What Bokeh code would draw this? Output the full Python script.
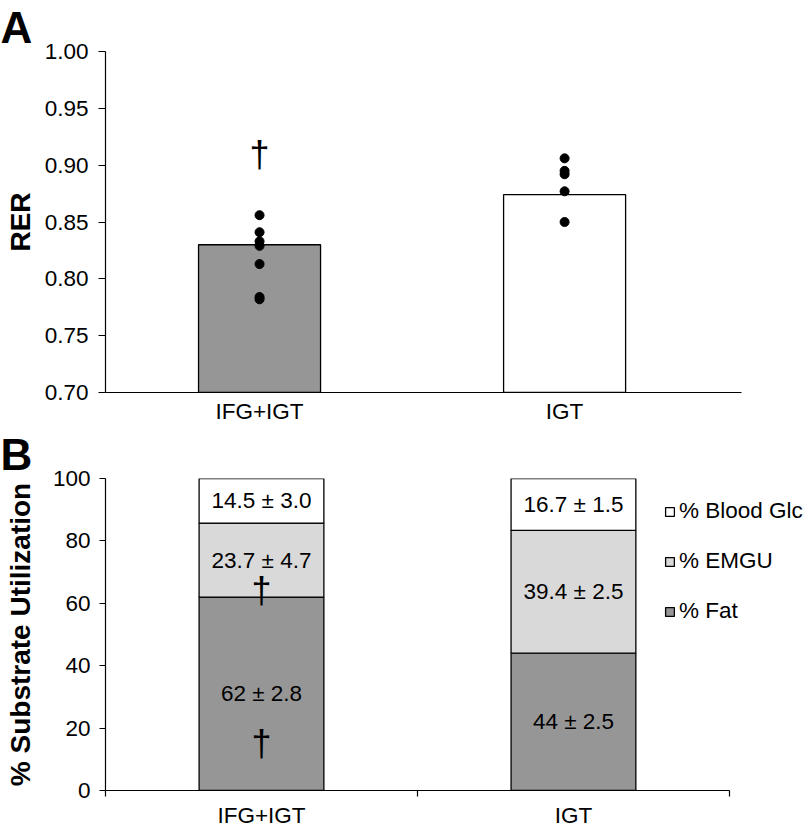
from bokeh.plotting import figure
from bokeh.models import (Range1d, FixedTicker, PrintfTickFormatter, Title,
                          Legend, LegendItem, ColumnDataSource)
from bokeh.layouts import column
from bokeh.embed import file_html
from bokeh.resources import INLINE
from bokeh.core.properties import value

FONT = "Liberation Sans"
FS = "22.5px"

# ---------------- data ----------------
groups = ["IFG+IGT", "IGT"]

# Panel A: RER
rer_mean = [0.830, 0.874]
rer_ifg_points = [0.856, 0.841, 0.833, 0.829, 0.813, 0.784, 0.782]
rer_igt_points = [0.906, 0.895, 0.892, 0.877, 0.850]
rer_dagger_y = [0.909]          # significance mark above IFG+IGT

# Panel B: % substrate utilization (stacked)
series_names = ["% Fat", "% EMGU", "% Blood Glc"]
pct_fat = [62.0, 44.0]
pct_emgu = [23.7, 39.4]
pct_glc = [14.5, 16.7]
sem_fat = [2.8, 2.5]
sem_emgu = [4.7, 2.5]
sem_glc = [3.0, 1.5]
dagger_b_group = [0, 0]          # IFG+IGT
dagger_b_y = [64.1, 15.0]        # marks in EMGU and Fat segments

colors = ["#969696", "#d9d9d9", "#ffffff"]


def style_axes(p):
    for ax in (p.xaxis[0], p.yaxis[0]):
        ax.axis_line_color = "black"
        ax.axis_line_width = 1.2
        ax.major_tick_line_color = "black"
        ax.major_tick_line_width = 1.2
        ax.major_label_text_font = FONT
        ax.major_label_text_font_size = FS
        ax.major_label_text_color = "black"
        ax.axis_label_text_font = FONT
        ax.axis_label_text_font_size = "28px"
        ax.axis_label_text_font_style = "bold"
        ax.axis_label_text_color = "black"


# ---------------- panel A ----------------
titleA = Title(text="A", align="left", offset=-105, standoff=0,
               text_font=FONT, text_font_size="44px", text_font_style="bold",
               text_color="black")
pA = figure(width=806, height=426, title=titleA,
            x_range=Range1d(-0.505, 1.793), y_range=Range1d(0.70, 1.00),
            output_backend="svg", toolbar_location=None,
            min_border_left=105, min_border_right=0,
            min_border_top=49, min_border_bottom=32)
pA.outline_line_color = None
pA.grid.visible = False

xa = list(range(len(groups)))
pA.vbar(x=xa, top=rer_mean, bottom=0.70, width=0.4,
        fill_color=[colors[0], colors[2]], line_color="black", line_width=1.3)

pts_x = [0] * len(rer_ifg_points) + [1] * len(rer_igt_points)
pts_y = rer_ifg_points + rer_igt_points
pA.scatter(x=pts_x, y=pts_y, size=9, color="black")

pA.text(x=[0], y=rer_dagger_y, text=["\u2020"], text_align="center",
        text_baseline="middle", text_font_size="36px",
        text_font=value(FONT), text_color="black")

pA.xaxis.ticker = FixedTicker(ticks=xa)
pA.xaxis.major_label_overrides = {i: g for i, g in enumerate(groups)}
pA.xaxis.bounds = (-0.505, 1.58)
pA.xaxis.major_tick_out = 0
pA.xaxis.major_tick_in = 0
pA.xaxis.minor_tick_line_color = None
pA.xaxis.major_label_standoff = 6

pA.yaxis.ticker = FixedTicker(ticks=[0.70, 0.75, 0.80, 0.85, 0.90, 0.95, 1.00])
pA.yaxis.formatter = PrintfTickFormatter(format="%.2f")
pA.yaxis.major_tick_out = 7
pA.yaxis.major_tick_in = 0
pA.yaxis.minor_tick_line_color = None
pA.yaxis.major_label_standoff = 10
pA.yaxis.axis_label = "RER"
pA.yaxis.axis_label_standoff = 6
style_axes(pA)

# ---------------- panel B ----------------
titleB = Title(text="B", align="left", offset=-105, standoff=0,
               text_font=FONT, text_font_size="44px", text_font_style="bold",
               text_color="black")
pB = figure(width=806, height=404, title=titleB,
            x_range=Range1d(0, 2.247), y_range=Range1d(0, 100),
            output_backend="svg", toolbar_location=None,
            min_border_left=105, min_border_right=0,
            min_border_top=52, min_border_bottom=38)
pB.outline_line_color = None
pB.grid.visible = False

xb = [i + 0.5 for i in range(len(groups))]
src = ColumnDataSource(dict(x=xb, fat=pct_fat, emgu=pct_emgu, glc=pct_glc))
rs = pB.vbar_stack(["fat", "emgu", "glc"], x="x", width=0.4, source=src,
                   fill_color=colors, line_color="black", line_width=1.3)

# value labels at segment centres
lab_x, lab_y, lab_t = [], [], []
for i in range(len(groups)):
    bottom = 0.0
    for v, s in ((pct_fat[i], sem_fat[i]), (pct_emgu[i], sem_emgu[i]), (pct_glc[i], sem_glc[i])):
        lab_x.append(xb[i])
        lab_y.append(bottom + v / 2.0)
        lab_t.append(f"{v:g} \u00b1 {s:.1f}")
        bottom += v
pB.text(x=lab_x, y=lab_y, text=lab_t, text_align="center", text_baseline="middle",
        text_font_size=FS, text_font=value(FONT), text_color="black")

pB.text(x=[xb[g] for g in dagger_b_group], y=dagger_b_y, text=["\u2020"] * len(dagger_b_y),
        text_align="center", text_baseline="middle", text_font_size="36px",
        text_font=value(FONT), text_color="black")

pB.xaxis.ticker = FixedTicker(ticks=xb, minor_ticks=[0, 1, 2])
pB.xaxis.major_label_overrides = {x: g for x, g in zip(xb, groups)}
pB.xaxis.bounds = (0, 2)
pB.xaxis.major_tick_out = 0
pB.xaxis.major_tick_in = 0
pB.xaxis.minor_tick_out = 6
pB.xaxis.minor_tick_in = 0
pB.xaxis.minor_tick_line_color = "black"
pB.xaxis.minor_tick_line_width = 1.2
pB.xaxis.major_label_standoff = 6

pB.yaxis.ticker = FixedTicker(ticks=[0, 20, 40, 60, 80, 100])
pB.yaxis.major_tick_out = 6
pB.yaxis.major_tick_in = 0
pB.yaxis.minor_tick_line_color = None
pB.yaxis.major_label_standoff = 9
pB.yaxis.axis_label = "% Substrate Utilization"
pB.yaxis.axis_label_standoff = 14
style_axes(pB)

items = [LegendItem(label=series_names[k], renderers=[rs[k]]) for k in (2, 1, 0)]
legend = Legend(items=items, location=(559, 166), orientation="vertical",
                border_line_color=None, background_fill_alpha=0,
                label_text_font=FONT, label_text_font_size=FS,
                label_text_color="black", glyph_width=11, glyph_height=11,
                label_standoff=4, label_height=26, spacing=24,
                padding=0, margin=0)
pB.add_layout(legend)

layout = column(pA, pB, spacing=0)
open("out.html", "w").write(file_html(layout, INLINE))
